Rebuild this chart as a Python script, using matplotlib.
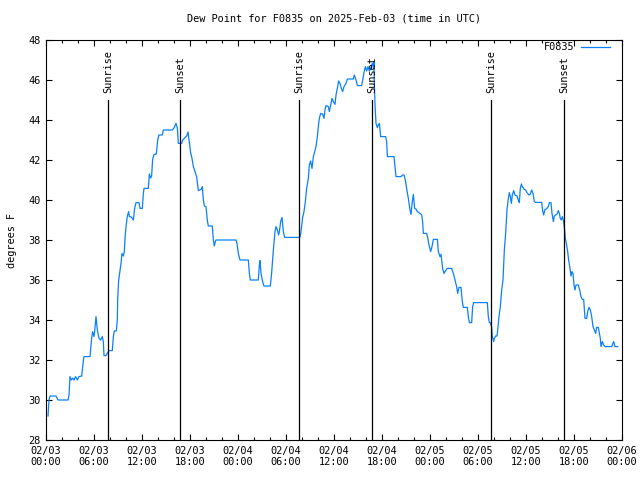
import pandas as pd
import matplotlib
matplotlib.use("Agg")
import matplotlib.pyplot as plt
import matplotlib.dates as mdates

# hours after 2025-02-03 00:00 UTC and dew point (F)
hours = [0.25, 0.375, 0.5, 1.25, 1.5, 2.75, 2.875, 3.0, 3.17, 3.33, 3.5, 3.7, 3.92, 4.12, 4.46,
         4.67, 4.75, 5.5, 5.58, 5.7, 5.83, 6.0, 6.08, 6.25, 6.42, 6.625, 6.83, 7.04, 7.17, 7.25,
         7.5, 7.67, 7.875, 8.29, 8.42, 8.54, 8.79, 8.92, 8.96, 9.08, 9.25, 9.375, 9.5, 9.67, 9.79,
         9.875, 10.0, 10.17, 10.33, 10.42, 10.67, 10.92, 11.08, 11.25, 11.625, 11.75, 12.04, 12.17,
         12.25, 12.79, 12.92, 13.08, 13.2, 13.33, 13.5, 13.79, 13.96, 14.125, 14.54, 14.67, 15.79,
         16.0, 16.25, 16.42, 16.54, 16.96, 17.08, 17.33, 17.58, 17.75, 17.92, 18.08, 18.25, 18.42,
         18.625, 18.83, 19.04, 19.375, 19.54, 19.67, 19.79, 20.0, 20.17, 20.29, 20.79, 20.92, 21.04,
         21.17, 21.25, 23.75, 23.875, 24.04, 24.25, 25.29, 25.42, 25.54, 26.54, 26.67, 26.75, 26.875,
         27.08, 27.25, 28.04, 28.2, 28.42, 28.625, 28.75, 28.92, 29.08, 29.2, 29.33, 29.5, 29.67,
         29.83, 31.75, 31.875, 32.08, 32.25, 32.42, 32.58, 32.79, 32.92, 33.08, 33.25, 33.42, 33.58,
         33.75, 33.92, 34.04, 34.17, 34.33, 34.58, 34.75, 34.875, 35.0, 35.29, 35.42, 35.58, 35.75,
         35.92, 36.125, 36.25, 36.42, 36.58, 36.75, 36.92, 37.08, 37.25, 37.5, 37.67, 38.42, 38.54,
         38.75, 38.92, 39.46, 39.58, 39.75, 39.92, 40.08, 40.25, 40.42, 40.58, 40.79, 40.92, 41.0,
         41.04, 41.125, 41.25, 41.42, 41.54, 41.67, 41.83, 42.46, 42.58, 42.67, 43.5, 43.625, 43.75,
         44.375, 44.58, 44.75, 44.92, 45.08, 45.29, 45.5, 45.625, 45.79, 45.92, 46.08, 46.25, 46.42,
         46.75, 46.96, 47.08, 47.17, 47.58, 47.71, 47.875, 48.08, 48.25, 48.42, 48.92, 49.04, 49.25,
         49.375, 49.58, 49.75, 49.92, 50.17, 50.71, 50.92, 51.33, 51.46, 51.625, 51.875, 52.04,
         52.17, 52.67, 52.79, 52.92, 53.21, 53.33, 53.46, 55.17, 55.29, 55.42, 55.54, 55.71, 55.79,
         55.96, 56.04, 56.21, 56.375, 56.46, 56.625, 56.79, 56.96, 57.125, 57.29, 57.46, 57.625,
         57.79, 57.92, 58.04, 58.17, 58.29, 58.46, 58.625, 58.875, 59.04, 59.17, 59.29, 59.42, 59.54,
         59.79, 59.96, 60.125, 60.375, 60.54, 60.71, 60.875, 61.04, 61.21, 61.96, 62.08, 62.21,
         62.375, 62.54, 62.79, 62.92, 63.125, 63.25, 63.42, 63.54, 63.71, 63.875, 64.04, 64.17,
         64.29, 64.42, 64.54, 64.67, 64.83, 64.92, 65.08, 65.21, 65.33, 65.5, 65.625, 65.75, 65.875,
         66.0, 66.125, 66.25, 66.54, 66.71, 66.875, 67.04, 67.21, 67.375, 67.58, 67.71, 67.875,
         68.04, 68.21, 68.375, 68.54, 68.71, 68.83, 69.04, 69.17, 69.29, 69.375, 69.54, 69.71,
         69.875, 70.71, 70.83, 70.96, 71.125, 71.46]
dewpt = [29.2, 30.0, 30.2, 30.2, 30.0, 30.0, 30.25, 31.17, 31.0, 31.1, 31.0, 31.17, 31.0, 31.17, 31.2,
         31.97, 32.17, 32.17, 32.53, 33.08, 33.42, 33.17, 33.42, 34.17, 33.5, 33.08, 33.0, 33.17, 32.9, 32.22,
         32.22, 32.35, 32.47, 32.47, 33.17, 33.45, 33.45, 34.03, 35.08, 35.97, 36.45, 36.83, 37.33, 37.2, 37.42,
         38.08, 38.67, 39.2, 39.42, 39.17, 39.15, 39.0, 39.58, 39.87, 39.87, 39.58, 39.58, 40.33,
         40.58, 40.58, 41.3, 41.1, 41.2, 42.03, 42.28, 42.3, 43.0, 43.25, 43.25, 43.5, 43.5,
         43.6, 43.83, 43.6, 42.83, 42.83, 43.0, 43.1, 43.2, 43.4, 42.85, 42.37, 42.08, 41.67,
         41.42, 41.17, 40.47, 40.53, 40.67, 40.0, 39.7, 39.67, 38.97, 38.7, 38.7, 38.0, 37.7,
         37.92, 38.0, 38.0, 37.83, 37.33, 37.0, 37.0, 36.33, 36.0, 36.0, 36.75, 36.97, 36.33,
         35.92, 35.7, 35.7, 36.33, 37.5, 38.42, 38.67, 38.5, 38.25, 38.5, 38.92, 39.13, 38.42,
         38.13, 38.13, 38.42, 39.12, 39.42, 39.92, 40.58, 41.08, 41.75, 41.95, 41.58, 42.17, 42.42,
         42.67, 43.17, 43.67, 44.08, 44.33, 44.3, 44.08, 44.5, 44.72, 44.67, 44.42, 44.75, 45.08,
         44.92, 44.78, 45.25, 45.58, 45.95, 45.83, 45.58, 45.42, 45.67, 45.83, 46.05, 46.05, 46.25,
         46.0, 45.72, 45.72, 46.0, 46.38, 46.67, 46.45, 46.67, 46.45, 46.58, 46.83, 46.6, 46.92,
         45.92, 44.75, 43.83, 43.62, 43.75, 43.83, 43.17, 43.17, 42.92, 42.17, 42.17, 41.67, 41.17,
         41.17, 41.25, 41.25, 41.0, 40.58, 40.08, 39.5, 39.28, 39.92, 40.28, 39.58, 39.55, 39.42,
         39.33, 39.25, 38.9, 38.33, 38.33, 38.12, 37.75, 37.42, 37.67, 38.03, 38.03, 37.42, 37.17,
         37.28, 36.58, 36.33, 36.45, 36.58, 36.58, 36.33, 35.67, 35.33, 35.63, 35.63, 34.92,
         34.63, 34.63, 34.17, 33.87, 33.87, 34.67, 34.87, 34.87, 34.17, 33.87, 33.87, 33.63, 33.17,
         32.92, 33.08, 33.2, 33.2, 33.5, 34.17, 34.67, 35.5, 36.0, 37.5, 38.33, 39.53,
         40.08, 40.37, 40.17, 39.83, 40.25, 40.47, 40.25, 40.2, 40.0, 39.87, 40.58, 40.8, 40.67,
         40.53, 40.5, 40.37, 40.25, 40.3, 40.5, 40.33, 39.92, 39.88, 39.88, 39.47, 39.25,
         39.53, 39.55, 39.67, 39.87, 39.87, 39.33, 38.92, 39.2, 39.25, 39.3, 39.47, 39.33,
         39.08, 39.0, 39.17, 39.0, 38.5, 38.08, 37.75, 37.42, 37.0, 36.58, 36.2, 36.42, 36.33,
         35.75, 35.5, 35.75, 35.75, 35.5, 35.17, 35.03, 35.03, 34.08, 34.08, 34.42, 34.63,
         34.5, 34.17, 33.67, 33.5, 33.33, 33.63, 33.63, 33.33, 33.08, 32.67, 32.92, 32.75,
         32.67, 32.67, 32.8, 32.92, 32.67, 32.67]

sunrise_hours = [7.79, 31.67, 55.67]
sunset_hours = [16.8, 40.8, 64.8]

start = pd.Timestamp("2025-02-03 00:00")
times = start + pd.to_timedelta(hours, unit="h")

plt.rcParams["font.family"] = ["DejaVu Sans Mono"]
plt.rcParams["font.size"] = 7.4

fig = plt.figure(figsize=(6.4, 4.8), dpi=100)
ax = fig.add_axes([46 / 640, 40 / 480, 576 / 640, 400 / 480])

ax.plot(times, dewpt, color="#0a80ff", lw=0.9, label="F0835")

for h in sunrise_hours:
    t = start + pd.Timedelta(hours=h)
    ax.plot([t, t], [28, 45], color="black", lw=0.9)
    ax.text(t, 45.35, "Sunrise", rotation=90, ha="center", va="bottom")
for h in sunset_hours:
    t = start + pd.Timedelta(hours=h)
    ax.plot([t, t], [28, 45], color="black", lw=0.9)
    ax.text(t, 45.35, "Sunset", rotation=90, ha="center", va="bottom")

ax.set_xlim(start, start + pd.Timedelta(hours=72))
ax.set_ylim(28, 48)
ax.set_yticks(range(28, 49, 2))
ax.xaxis.set_major_locator(mdates.HourLocator(byhour=range(0, 24, 6)))
ax.xaxis.set_minor_locator(mdates.HourLocator(byhour=range(0, 24, 2)))
ax.xaxis.set_major_formatter(mdates.DateFormatter("%m/%d\n%H:%M"))

ax.tick_params(which="both", direction="in", top=True, right=True, width=0.8)
ax.tick_params(which="major", length=4.5, pad=4)
ax.tick_params(which="minor", length=2.3)
for s in ax.spines.values():
    s.set_linewidth(0.8)

ax.set_title("Dew Point for F0835 on 2025-Feb-03 (time in UTC)", fontsize=7.4, pad=13)
ax.set_ylabel("degrees F", labelpad=8)
ax.legend(loc="upper right", bbox_to_anchor=(0.986, 1.005), frameon=False,
          markerfirst=False, handlelength=2.8, handletextpad=0.6, borderaxespad=0)

fig.savefig("out.png", dpi=100)
